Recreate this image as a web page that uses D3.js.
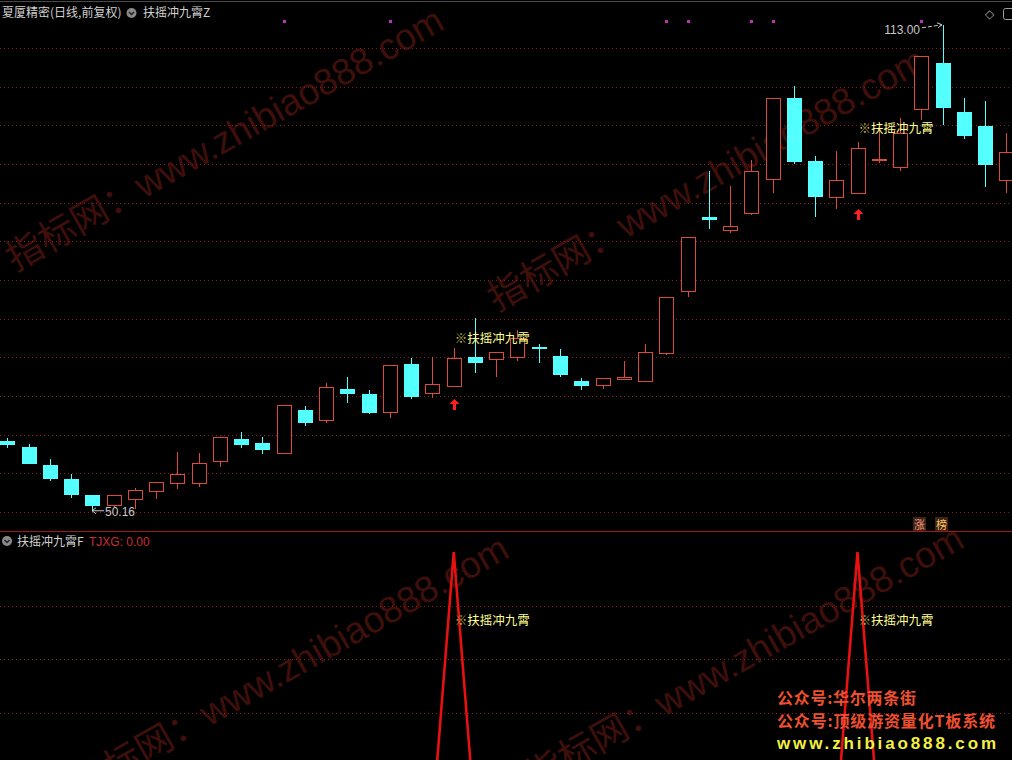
<!DOCTYPE html>
<html><head><meta charset="utf-8">
<script src="https://cdn.jsdelivr.net/npm/d3@7"></script>
<style>html,body{margin:0;padding:0;background:#000;overflow:hidden}</style>
</head><body><svg id="c" width="1012" height="760"></svg>
<script>
// ---------- data ----------
const opens  = [59.22,58.37,56.08,54.27,52.20,50.94,51.72,52.75,53.79,53.71,56.63,59.44,58.92,57.59,63.19,61.94,65.91,65.26,62.89,69.14,65.43,66.33,70.04,69.75,70.00,71.38,70.17,66.94,66.38,67.24,66.98,70.60,78.54,88.19,86.51,88.63,93.02,103.54,95.39,90.69,91.21,95.61,94.57,102.07,108.10,101.73,99.92,92.97];
const highs  = [59.53,58.79,56.85,54.91,52.25,52.22,53.10,53.88,57.76,57.63,59.66,60.31,59.66,63.80,63.71,66.68,67.46,65.74,68.97,69.88,70.00,71.21,75.09,70.65,73.53,71.69,71.04,67.29,67.29,69.53,71.72,77.80,85.52,94.10,92.16,95.52,103.50,105.09,96.04,96.72,97.85,99.36,100.91,108.97,113.00,103.54,103.15,98.97];
const lows   = [58.31,56.20,54.01,51.85,50.16,50.60,50.35,51.68,53.01,53.27,55.86,58.31,57.54,57.59,61.12,61.55,64.13,62.67,62.19,64.65,64.78,66.20,68.01,67.50,69.49,69.23,67.50,65.78,65.94,67.03,66.81,70.26,77.84,86.60,86.12,88.37,91.21,94.96,88.19,89.22,91.21,95.09,94.14,100.69,100.00,98.19,92.07,91.29];
const closes = [58.66,56.25,54.27,52.20,50.78,52.20,52.84,53.88,54.91,56.34,59.66,58.66,58.02,63.80,61.55,66.13,65.30,62.84,68.97,64.91,66.55,69.88,69.31,70.65,72.50,71.30,67.75,66.25,67.29,67.42,70.65,77.80,85.52,87.80,86.98,94.10,103.50,95.30,90.77,92.93,97.03,95.69,98.97,108.97,102.28,98.66,94.91,96.51];
const tjxg   = opens.map((d,i) => (i === 21 || i === 40) ? 1 : 0);
const signalBars = [21, 40];
const dotBars = [13, 18, 31, 32, 35, 36, 43];
const priceGrid = [50,55,60,65,70,75,80,85,90,95,100,105,110];
const subGrid = [0.2,0.4,0.6,0.8];
const maxBar = 44, minBar = 4;
const maxLabel = "113.00", minLabel = "50.16";
const titleMain = "夏厦精密(日线,前复权)";
const titleInd = "扶摇冲九霄Z";
const titleSub = "扶摇冲九霄F";
const subValue = "TJXG: 0.00";
const signalText = "扶摇冲九霄";
const promo1 = "公众号:华尔两条街";
const promo2 = "公众号:顶级游资量化T板系统";
const promo3 = "www.zhibiao888.com";
const watermark = "指标网：www.zhibiao888.com";

// ---------- setup ----------
const W = 1012, H = 760;
const svg = d3.select("#c");
svg.append("rect").attr("width", W).attr("height", H).attr("fill", "#000");

const UP = "#dc4a3c", DOWN = "#54ffff", GRID = "#8a1c1c";
const n = opens.length;
const x = d3.scaleBand().domain(d3.range(n)).range([-3.125, 1016.875]).paddingInner(0.3).paddingOuter(0.15);
const cx = i => x(i) + x.bandwidth() / 2;
const y = d3.scaleLinear().domain([50, 110]).range([512, 48]);
const ySub = d3.scaleLinear().domain([0, 1]).range([820, 552]);

const defs = svg.append("defs");
defs.append("clipPath").attr("id", "mainClip").append("rect").attr("x", 0).attr("y", 8).attr("width", W).attr("height", 523);
defs.append("clipPath").attr("id", "subClip").append("rect").attr("x", 0).attr("y", 532).attr("width", W).attr("height", 228);

// top border
svg.append("line").attr("x1", 0).attr("x2", W).attr("y1", 1.5).attr("y2", 1.5).attr("stroke", "#4a4a4a");

// watermarks
const wm = svg.append("g");
[[15, 272], [497, 312], [80, 800], [535, 790]].forEach(([wx, wy]) => {
  wm.append("text").attr("x", wx).attr("y", wy)
    .attr("transform", `rotate(-29.5 ${wx} ${wy})`)
    .attr("font-family", "Liberation Sans, Noto Sans CJK SC, sans-serif")
    .attr("font-size", 37).attr("fill", "#b02a20").attr("opacity", 0.36)
    .text(watermark);
});

// grid
const main = svg.append("g").attr("clip-path", "url(#mainClip)");
main.selectAll("line.grid").data(priceGrid).join("line")
  .attr("x1", 0).attr("x2", W)
  .attr("y1", d => Math.round(y(d)) + 0.5).attr("y2", d => Math.round(y(d)) + 0.5)
  .attr("stroke", GRID).attr("stroke-dasharray", "1 3");

// candles
const data = opens.map((o, i) => ({ i, o, h: highs[i], l: lows[i], c: closes[i] }));
const cg = main.append("g");
data.forEach(d => {
  const xc = Math.round(cx(d.i)) + 0.5;
  const left = Math.round(cx(d.i) - 7);
  const yh = Math.round(y(d.h)), yl = Math.round(y(d.l));
  const yo = Math.round(y(d.o)), yc = Math.round(y(d.c));
  if (d.c >= d.o) {
    const top = yc, bot = Math.max(yo, yc + 1);
    if (yh < top) cg.append("line").attr("x1", xc).attr("x2", xc).attr("y1", yh).attr("y2", top).attr("stroke", UP);
    if (yl > bot) cg.append("line").attr("x1", xc).attr("x2", xc).attr("y1", bot).attr("y2", yl).attr("stroke", UP);
    cg.append("rect").attr("x", left + 0.5).attr("y", top + 0.5).attr("width", 14).attr("height", Math.max(1, bot - top))
      .attr("fill", "#000").attr("stroke", UP);
  } else {
    cg.append("line").attr("x1", xc).attr("x2", xc).attr("y1", yh).attr("y2", yl).attr("stroke", DOWN);
    cg.append("rect").attr("x", left).attr("y", yo).attr("width", 15).attr("height", Math.max(2, yc - yo)).attr("fill", DOWN);
  }
});

// magenta dots
svg.selectAll("rect.dot").data(dotBars).join("rect")
  .attr("x", d => Math.round(cx(d)) - 1).attr("y", 20).attr("width", 3).attr("height", 3).attr("fill", "#c030c0");

// signals: text + arrow
function sigLabel(g, i, yy) {
  const t = g.append("text").attr("x", cx(i) + 1).attr("y", yy).attr("dominant-baseline", "central")
    .attr("font-family", "Noto Sans CJK SC, sans-serif").attr("font-size", 12.5);
  t.append("tspan").attr("fill", "#b8b040").text("※");
  t.append("tspan").attr("fill", "#ffff90").text(signalText);
}
signalBars.forEach(i => {
  sigLabel(main, i, y(highs[i] * 1.02));
  const ax = Math.round(cx(i)) + 0.5, ty = Math.round(y(lows[i] * 0.98)) + 2;
  main.append("path")
    .attr("d", `M${ax},${ty} L${ax + 5},${ty + 5} L${ax + 1.5},${ty + 5} L${ax + 1.5},${ty + 11} L${ax - 1.5},${ty + 11} L${ax - 1.5},${ty + 5} L${ax - 5},${ty + 5} Z`)
    .attr("fill", "#ff2020");
});

// max / min labels
const lblFont = "Liberation Sans, Arial, sans-serif";
{
  const hx = Math.round(cx(maxBar)), hy = y(highs[maxBar]);
  svg.append("text").attr("x", hx - 23).attr("y", hy + 9).attr("text-anchor", "end")
    .attr("font-family", lblFont).attr("font-size", 12).attr("fill", "#c8c8c8").text(maxLabel);
  svg.append("line").attr("x1", hx - 21).attr("y1", hy + 3).attr("x2", hx - 1).attr("y2", hy)
    .attr("stroke", "#c8c8c8").attr("stroke-dasharray", "4 2");
  svg.append("path").attr("d", `M${hx - 6},${hy - 2} L${hx - 1},${hy} L${hx - 5},${hy + 3}`)
    .attr("fill", "none").attr("stroke", "#c8c8c8");
  const lx = Math.round(cx(minBar)), ly = y(lows[minBar]);
  svg.append("line").attr("x1", lx).attr("y1", ly).attr("x2", lx + 12).attr("y2", ly).attr("stroke", "#c8c8c8");
  svg.append("path").attr("d", `M${lx + 4},${ly - 3} L${lx},${ly} L${lx + 4},${ly + 3}`).attr("fill", "none").attr("stroke", "#c8c8c8");
  svg.append("text").attr("x", lx + 13).attr("y", ly + 5).attr("font-family", lblFont).attr("font-size", 12)
    .attr("fill", "#c8c8c8").text(minLabel);
}

// header
const hf = "Noto Sans CJK SC, sans-serif";
svg.append("text").attr("x", 2).attr("y", 17).attr("font-family", hf).attr("font-size", 12).attr("fill", "#d0d0d0").text(titleMain);
function chevCircle(px, py) {
  svg.append("circle").attr("cx", px).attr("cy", py).attr("r", 5).attr("fill", "#8a8a8a");
  svg.append("path").attr("d", `M${px - 2.5},${py - 1} L${px},${py + 1.5} L${px + 2.5},${py - 1}`).attr("fill", "none").attr("stroke", "#222").attr("stroke-width", 1.5);
}
chevCircle(131.5, 13);
svg.append("text").attr("x", 143).attr("y", 17).attr("font-family", hf).attr("font-size", 12).attr("fill", "#d0d0d0").text(titleInd);
svg.append("text").attr("x", 985).attr("y", 18).attr("font-family", "DejaVu Sans, sans-serif").attr("font-size", 12).attr("fill", "#a0a0a0").text("◇");
svg.append("rect").attr("x", 1003.5).attr("y", 8.5).attr("width", 12).attr("height", 11).attr("rx", 2).attr("fill", "none").attr("stroke", "#a0a0a0");

// 涨 榜 tags
[["涨", 913, "#ff9a7a"], ["榜", 935, "#ffc060"]].forEach(([t, tx, col]) => {
  svg.append("rect").attr("x", tx).attr("y", 517).attr("width", 13).attr("height", 14).attr("fill", "#3a2418");
  svg.append("text").attr("x", tx + 1).attr("y", 528.5).attr("font-family", hf).attr("font-size", 11).attr("fill", col).text(t);
});

// separator
svg.append("line").attr("x1", 0).attr("x2", W).attr("y1", 531.5).attr("y2", 531.5).attr("stroke", "#a01818");

// sub panel
const sub = svg.append("g").attr("clip-path", "url(#subClip)");
sub.selectAll("line.sg").data(subGrid).join("line")
  .attr("x1", 0).attr("x2", W)
  .attr("y1", d => Math.round(ySub(d)) + 0.5).attr("y2", d => Math.round(ySub(d)) + 0.5)
  .attr("stroke", GRID).attr("stroke-dasharray", "1 3");
sub.append("path").datum(tjxg)
  .attr("d", d3.line().x((d, i) => cx(i)).y(d => ySub(d)))
  .attr("fill", "none").attr("stroke", "#e81010").attr("stroke-width", 2.6);
signalBars.forEach(i => sigLabel(sub, i, ySub(0.75)));

chevCircle(7, 541);
svg.append("text").attr("x", 17).attr("y", 546).attr("font-family", hf).attr("font-size", 12).attr("fill", "#d0d0d0").text(titleSub);
svg.append("text").attr("x", 89).attr("y", 546).attr("font-family", lblFont).attr("font-size", 12).attr("fill", "#c83030").text(subValue);

// promo text
const pf = "Noto Sans CJK SC, sans-serif";
svg.append("text").attr("x", 777).attr("y", 704).attr("font-family", pf).attr("font-weight", 700).attr("font-size", 16)
  .attr("fill", "#ee5030").attr("textLength", 139).text(promo1);
svg.append("text").attr("x", 777).attr("y", 727).attr("font-family", pf).attr("font-weight", 700).attr("font-size", 16)
  .attr("fill", "#ee5030").attr("textLength", 218).text(promo2);
svg.append("text").attr("x", 777).attr("y", 749).attr("font-family", "Liberation Sans, Arial, sans-serif").attr("font-weight", 700).attr("font-size", 17)
  .attr("fill", "#f2f040").attr("textLength", 219).text(promo3);
</script></body></html>
